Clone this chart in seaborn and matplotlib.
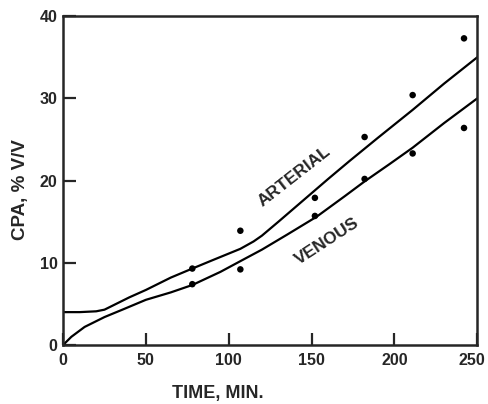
import pandas as pd
import seaborn as sns
import matplotlib.pyplot as plt
from matplotlib.transforms import ScaledTranslation

# measured points
pt_time = [78, 107, 152, 182, 211, 242]
pt_arterial = [9.3, 13.9, 17.9, 25.3, 30.4, 37.3]
pt_venous = [7.4, 9.2, 15.7, 20.2, 23.3, 26.4]

# fitted curves
art_time = [0, 10, 20, 25, 30, 40, 50, 65, 78, 90, 107, 115, 120, 130, 145, 160, 173, 190, 211, 230, 250]
art_cpa = [4.0, 4.0, 4.1, 4.3, 4.8, 5.8, 6.7, 8.2, 9.3, 10.3, 11.7, 12.6, 13.3, 15.0, 17.6, 20.2, 22.4, 25.2, 28.6, 31.8, 35.0]
ven_time = [0, 5, 13, 25, 37, 50, 65, 78, 95, 107, 120, 135, 153, 170, 182, 197, 211, 230, 250]
ven_cpa = [0.0, 1.0, 2.2, 3.4, 4.4, 5.5, 6.4, 7.3, 8.9, 10.2, 11.6, 13.4, 15.6, 18.1, 19.9, 22.0, 24.0, 27.0, 30.0]

sns.set_style('ticks')
plt.rcParams['font.family'] = ['Liberation Sans', 'DejaVu Sans']
plt.rcParams['font.weight'] = 'bold'

fig = plt.figure(figsize=(4.89, 4.04), dpi=100)
ax = fig.add_axes([0.129, 0.146, 0.847, 0.814])

art = pd.DataFrame({'t': art_time, 'c': art_cpa})
ven = pd.DataFrame({'t': ven_time, 'c': ven_cpa})
pts = pd.DataFrame({'t': pt_time * 2, 'c': pt_arterial + pt_venous})

sns.lineplot(data=art, x='t', y='c', color='black', lw=1.6, ax=ax, sort=False)
sns.lineplot(data=ven, x='t', y='c', color='black', lw=1.6, ax=ax, sort=False)
sns.scatterplot(data=pts, x='t', y='c', color='black', s=22, edgecolor='none', ax=ax, zorder=3)

ax.set_xlim(0, 250)
ax.set_ylim(0, 40)
ax.set_xticks([0, 50, 100, 150, 200, 250])
ax.set_yticks([0, 10, 20, 30, 40])
ax.tick_params(direction='in', length=9, width=1.6, labelsize=11.5)
ax.tick_params(axis='x', pad=6)
ax.tick_params(axis='y', pad=4)
for s in ax.spines.values():
    s.set_linewidth(1.8)

# nudge the last x label so it stays inside the figure
last = ax.get_xticklabels()[-1]
last.set_transform(last.get_transform() + ScaledTranslation(-4 / 72, 0, fig.dpi_scale_trans))

ax.set_xlabel('')
ax.set_ylabel('')
fig.text(0.041, 0.53, 'CPA, % V/V', rotation=90, fontsize=13.5, fontweight='bold', ha='center', va='center')
fig.text(0.446, 0.015, 'TIME, MIN.', fontsize=13, fontweight='bold', ha='center', va='baseline')

ax.text(139.8, 20.5, 'ARTERIAL', rotation=38, fontsize=12.5, fontweight='bold', ha='center', va='center')
ax.text(159.4, 12.6, 'VENOUS', rotation=33, fontsize=12.5, fontweight='bold', ha='center', va='center')

plt.savefig('out.png', dpi=100)
